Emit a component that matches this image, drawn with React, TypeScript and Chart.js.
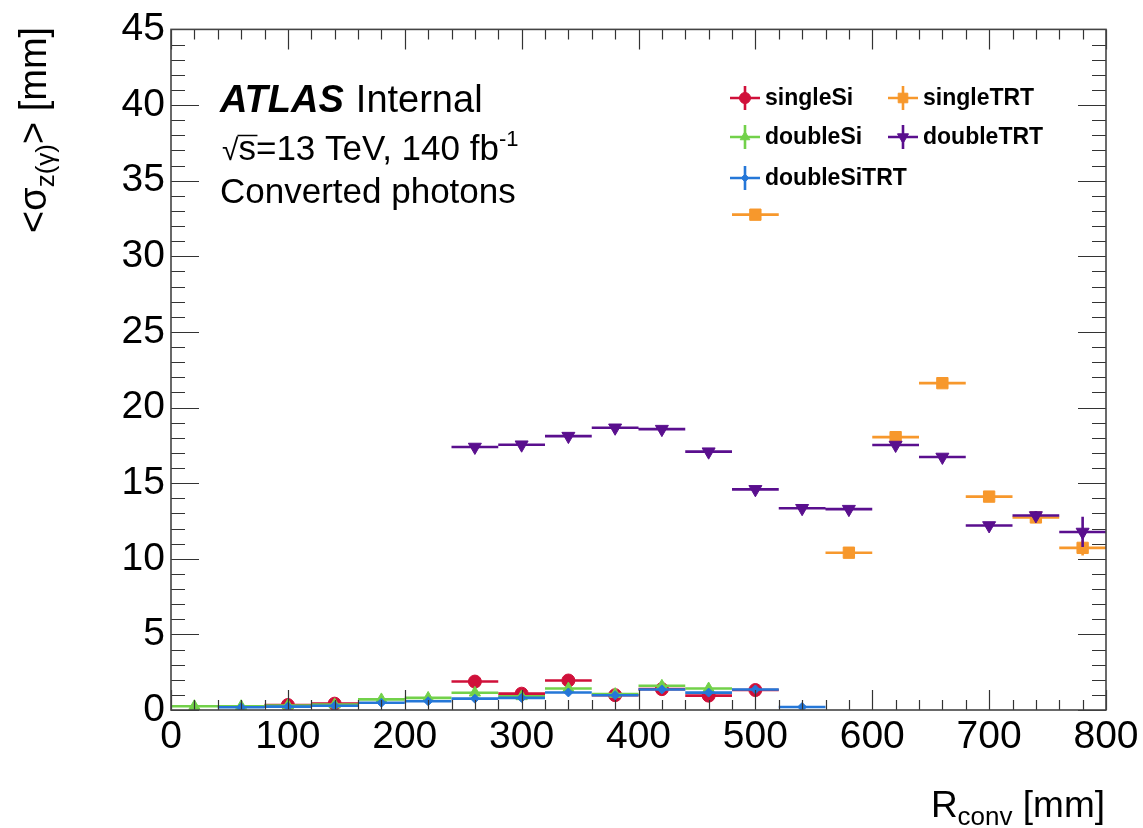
import React, { useEffect, useRef } from "react";
import { Chart, registerables } from "chart.js";
import { drawPoint } from "chart.js/helpers";

Chart.register(...registerables);

// ---------------- data ----------------
const binCenters = [20, 60, 100, 140, 180, 220, 260, 300, 340, 380, 420, 460, 500, 540, 580, 620, 660, 700, 740, 780];
const binHalfWidth = 20;

const singleSi = [null, null, 0.33, 0.42, null, null, 1.88, 1.08, 1.95, 0.98, 1.38, 0.95, 1.32, null, null, null, null, null, null, null];
const singleSiErr = [0, 0, 0.1, 0.1, 0, 0, 0.1, 0.1, 0.1, 0.1, 0.1, 0.1, 0.1, 0, 0, 0, 0, 0, 0, 0];

const singleTRT = [null, null, null, null, null, null, null, null, null, null, null, null, 32.75, null, 10.4, 18.04, 21.61, 14.11, 12.73, 10.72];
const singleTRTErr = [0, 0, 0, 0, 0, 0, 0, 0, 0, 0, 0, 0, 0.15, 0, 0.15, 0.15, 0.15, 0.15, 0.2, 0.5];

const doubleSi = [0.25, 0.25, 0.3, 0.36, 0.7, 0.8, 1.14, 0.9, 1.42, 1.05, 1.6, 1.42, null, null, null, null, null, null, null, null];
const doubleSiErr = [0.05, 0.05, 0.05, 0.05, 0.05, 0.05, 0.05, 0.05, 0.05, 0.05, 0.05, 0.05, 0, 0, 0, 0, 0, 0, 0, 0];

const doubleTRT = [null, null, null, null, null, null, 17.39, 17.54, 18.11, 18.66, 18.57, 17.08, 14.59, 13.34, 13.28, 17.52, 16.73, 12.2, 12.86, 11.77];
const doubleTRTErr = [0, 0, 0, 0, 0, 0, 0.1, 0.1, 0.1, 0.1, 0.1, 0.1, 0.1, 0.1, 0.1, 0.15, 0.15, 0.15, 0.3, 1.0];

const doubleSiTRT = [null, 0.18, 0.22, 0.28, 0.48, 0.58, 0.75, 0.8, 1.16, 0.98, 1.36, 1.15, 1.36, 0.2, null, null, null, null, null, null];
const doubleSiTRTErr = [0, 0.05, 0.05, 0.05, 0.05, 0.05, 0.05, 0.05, 0.05, 0.05, 0.05, 0.05, 0.05, 0.05, 0, 0, 0, 0, 0, 0];

const legendLabels = ["singleSi", "singleTRT", "doubleSi", "doubleTRT", "doubleSiTRT"];
const xTickStep = 100;
const yTickStep = 5;

// ---------------- styling ----------------
const FONT = "'Liberation Sans', Arial, Helvetica, sans-serif";

type Series = {
  label: string;
  values: (number | null)[];
  errs: number[];
  color: string;
  pointStyle: string;
  radius: number;
  rotation: number;
  order: number;
};

const series: Series[] = [
  { label: legendLabels[0], values: singleSi, errs: singleSiErr, color: "#d0103a", pointStyle: "circle", radius: 6.5, rotation: 0, order: 5 },
  { label: legendLabels[1], values: singleTRT, errs: singleTRTErr, color: "#f7982c", pointStyle: "rect", radius: 8, rotation: 0, order: 2 },
  { label: legendLabels[2], values: doubleSi, errs: doubleSiErr, color: "#72d14a", pointStyle: "triangle", radius: 6.5, rotation: 0, order: 4 },
  { label: legendLabels[3], values: doubleTRT, errs: doubleTRTErr, color: "#5a0f8e", pointStyle: "triangle", radius: 7.5, rotation: 180, order: 1 },
  { label: legendLabels[4], values: doubleSiTRT, errs: doubleSiTRTErr, color: "#2577d8", pointStyle: "rectRot", radius: 4.5, rotation: 0, order: 3 },
];

const errorBarPlugin = {
  id: "errorBars",
  beforeDatasetDraw(chart: any, args: any) {
    const ds = chart.data.datasets[args.index];
    const xs = chart.scales.x;
    const ys = chart.scales.y;
    const ctx = chart.ctx;
    ctx.save();
    ctx.strokeStyle = ds.borderColor;
    ctx.lineWidth = 2.6;
    ctx.beginPath();
    for (const p of ds.data) {
      const y = ys.getPixelForValue(p.y);
      ctx.moveTo(xs.getPixelForValue(p.x - binHalfWidth), y);
      ctx.lineTo(xs.getPixelForValue(p.x + binHalfWidth), y);
      if (p.e > 0) {
        const xc = xs.getPixelForValue(p.x);
        ctx.moveTo(xc, ys.getPixelForValue(p.y - p.e));
        ctx.lineTo(xc, ys.getPixelForValue(p.y + p.e));
      }
    }
    ctx.stroke();
    ctx.restore();
  },
};

function drawRich(ctx: CanvasRenderingContext2D, parts: { t: string; size: number; dy: number; weight?: string }[], x: number, y: number, align: "left" | "right") {
  const widths = parts.map((p) => {
    ctx.font = `${p.weight || "normal"} ${p.size}px ${FONT}`;
    return ctx.measureText(p.t).width;
  });
  const total = widths.reduce((a, b) => a + b, 0);
  let cx = align === "right" ? x - total : x;
  ctx.textAlign = "left";
  ctx.textBaseline = "alphabetic";
  const starts: number[] = [];
  parts.forEach((p, i) => {
    ctx.font = `${p.weight || "normal"} ${p.size}px ${FONT}`;
    starts.push(cx);
    ctx.fillText(p.t, cx, y + p.dy);
    cx += widths[i];
  });
  return { starts, widths };
}

const framePlugin = {
  id: "rootFrame",
  afterDraw(chart: any) {
    const ctx: CanvasRenderingContext2D = chart.ctx;
    const { left, right, top, bottom } = chart.chartArea;
    const xs = chart.scales.x;
    const ys = chart.scales.y;
    ctx.save();
    // ticks
    ctx.strokeStyle = "#333";
    ctx.lineWidth = 1.2;
    ctx.beginPath();
    for (let v = xs.min; v <= xs.max + 1e-9; v += xTickStep / 5) {
      const px = Math.round(xs.getPixelForValue(v)) + 0.5;
      const major = Math.abs(v / xTickStep - Math.round(v / xTickStep)) < 1e-6;
      const len = major ? 20 : 10;
      ctx.moveTo(px, bottom);
      ctx.lineTo(px, bottom - len);
      ctx.moveTo(px, top);
      ctx.lineTo(px, top + len);
    }
    for (let v = ys.min; v <= ys.max + 1e-9; v += yTickStep / 5) {
      const py = Math.round(ys.getPixelForValue(v)) + 0.5;
      const major = Math.abs(v / yTickStep - Math.round(v / yTickStep)) < 1e-6;
      const len = major ? 28 : 14;
      ctx.moveTo(left, py);
      ctx.lineTo(left + len, py);
      ctx.moveTo(right, py);
      ctx.lineTo(right - len, py);
    }
    ctx.stroke();
    // frame
    ctx.strokeStyle = "#444";
    ctx.lineWidth = 1.6;
    ctx.strokeRect(left, top, right - left, bottom - top);

    // texts
    ctx.fillStyle = "#000";
    ctx.textAlign = "left";
    ctx.textBaseline = "alphabetic";
    ctx.font = `italic bold 38px ${FONT}`;
    ctx.fillText("ATLAS", 220, 112);
    const wA = ctx.measureText("ATLAS").width;
    ctx.font = `normal 38px ${FONT}`;
    ctx.fillText("Internal", 220 + wA + 12, 112);
    const r = drawRich(ctx, [
      { t: "\u221A", size: 30, dy: 0 },
      { t: "s=13 TeV, 140 fb", size: 35, dy: 0 },
      { t: "-1", size: 22, dy: -14 },
    ], 222, 160, "left");
    // overbar of the square root
    ctx.strokeStyle = "#000";
    ctx.lineWidth = 1.5;
    ctx.beginPath();
    ctx.moveTo(r.starts[1] - 1, 135.5);
    ctx.lineTo(r.starts[1] + 19, 135.5);
    ctx.stroke();
    ctx.font = `normal 35px ${FONT}`;
    ctx.fillText("Converted photons", 220, 203);

    // legend
    const cols = [745, 903];
    const rows = [98, 137, 178];
    series.forEach((s, i) => {
      const cx = cols[i % 2];
      const cy = rows[Math.floor(i / 2)];
      ctx.strokeStyle = s.color;
      ctx.fillStyle = s.color;
      ctx.lineWidth = 2.6;
      ctx.beginPath();
      ctx.moveTo(cx - 15, cy);
      ctx.lineTo(cx + 15, cy);
      ctx.moveTo(cx, cy - 12);
      ctx.lineTo(cx, cy + 12);
      ctx.stroke();
      ctx.lineWidth = 1;
      drawPoint(ctx, { pointStyle: s.pointStyle as any, radius: s.radius * 0.85, rotation: s.rotation, borderWidth: 1 }, cx, cy);
      ctx.fillStyle = "#000";
      ctx.font = `bold 23px ${FONT}`;
      ctx.textBaseline = "middle";
      ctx.textAlign = "left";
      ctx.fillText(s.label, cx + 20, cy + 1);
    });

    // axis titles
    ctx.fillStyle = "#000";
    drawRich(ctx, [
      { t: "R", size: 37, dy: 0 },
      { t: "conv", size: 26, dy: 8 },
      { t: " [mm]", size: 37, dy: 0 },
    ], 1105, 817, "right");

    ctx.save();
    ctx.translate(46, 233);
    ctx.rotate(-Math.PI / 2);
    drawRich(ctx, [
      { t: "<\u03C3", size: 38, dy: 0 },
      { t: "z(\u03B3)", size: 26, dy: 8 },
      { t: "> [mm]", size: 38, dy: 0 },
    ], 0, 0, "left");
    ctx.restore();

    ctx.restore();
  },
};

export default function App() {
  const ref = useRef<HTMLCanvasElement>(null);
  useEffect(() => {
    if (!ref.current) return;
    const datasets = series.map((s) => ({
      label: s.label,
      data: binCenters
        .map((x, i) => (s.values[i] == null ? null : { x, y: s.values[i] as number, e: s.errs[i] }))
        .filter((p) => p !== null) as any[],
      backgroundColor: s.color,
      borderColor: s.color,
      pointStyle: s.pointStyle as any,
      pointRadius: s.radius,
      pointRotation: s.rotation,
      pointBorderWidth: 1,
      showLine: false,
      order: s.order,
    }));
    const chart = new Chart(ref.current, {
      type: "scatter",
      data: { datasets },
      options: {
        animation: false,
        responsive: false,
        devicePixelRatio: 1,
        layout: { padding: { top: 24, right: 37, bottom: 0, left: 0 } },
        plugins: { legend: { display: false }, tooltip: { enabled: false } },
        scales: {
          x: {
            type: "linear",
            min: 0,
            max: 800,
            ticks: { stepSize: xTickStep, color: "#000", font: { family: FONT, size: 39 }, padding: 4, maxRotation: 0, autoSkip: false },
            grid: { display: false, drawTicks: false },
            border: { display: false },
            afterFit: (s: any) => { s.height = 118; },
          },
          y: {
            type: "linear",
            min: 0,
            max: 45,
            ticks: { stepSize: yTickStep, color: "#000", font: { family: FONT, size: 39 }, padding: 6, autoSkip: false },
            grid: { display: false, drawTicks: false },
            border: { display: false },
            afterFit: (s: any) => { s.width = 171; },
          },
        },
      },
      plugins: [errorBarPlugin, framePlugin],
    });
    return () => chart.destroy();
  }, []);
  return (
    <div style={{ position: "fixed", left: 0, top: 0, width: 1143, height: 828, background: "#fff" }}>
      <canvas ref={ref} width={1143} height={828} style={{ width: 1143, height: 828 }} />
    </div>
  );
}
